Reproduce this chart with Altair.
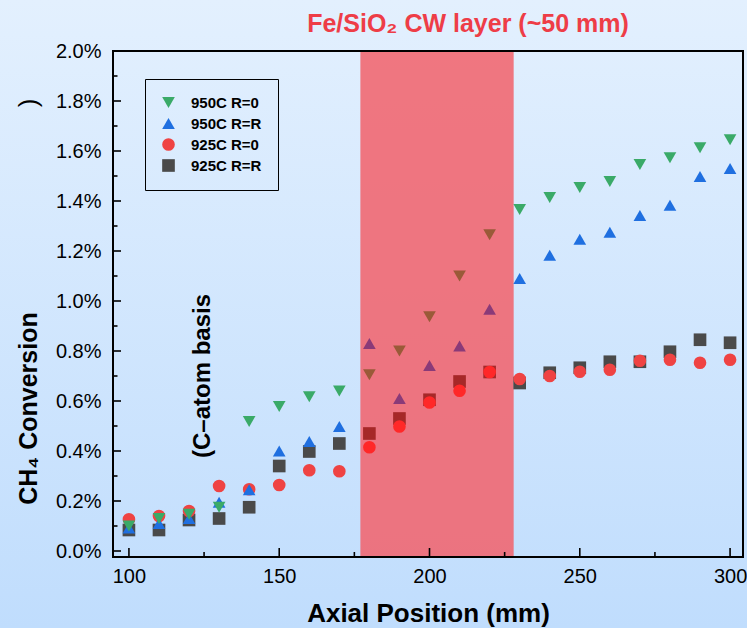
import altair as alt
import pandas as pd

# ---------------- data ----------------
positions = [100, 110, 120, 130, 140, 150, 160, 170, 180, 190, 200,
             210, 220, 230, 240, 250, 260, 270, 280, 290, 300]
g950_r0 = [0.100, 0.130, 0.147, 0.175, 0.518, 0.578, 0.617, 0.640, 0.705, 0.800, 0.937,
           1.100, 1.265, 1.366, 1.414, 1.454, 1.478, 1.546, 1.573, 1.613, 1.645]
b950_rr = [0.092, 0.110, 0.130, 0.195, 0.245, 0.400, 0.438, 0.498, 0.830, 0.610, 0.742,
           0.820, 0.967, 1.090, 1.183, 1.247, 1.275, 1.342, 1.383, 1.498, 1.530]
r925_r0 = [0.127, 0.140, 0.160, 0.260, 0.247, 0.264, 0.323, 0.319, 0.415, 0.498, 0.594,
           0.641, 0.716, 0.688, 0.700, 0.717, 0.725, 0.761, 0.765, 0.753, 0.765]
s925_rr = [0.084, 0.084, 0.124, 0.130, 0.175, 0.340, 0.398, 0.430, 0.470, 0.530, 0.605,
           0.678, 0.716, 0.672, 0.713, 0.733, 0.757, 0.757, 0.797, 0.845, 0.833]

series_names = ["950C R=0", "950C R=R", "925C R=0", "925C R=R"]
series_values = [g950_r0, b950_rr, r925_r0, s925_rr]
series_colors = ["#3AAA68", "#1F6FE0", "#EF4343", "#4A4A4A"]
zone_colors = ["#9A5A38", "#8A3A78", "#FF2828", "#A62828"]
series_shapes = ["triangle-down", "triangle-up", "circle", "square"]
draw_order = [3, 2, 1, 0]  # squares below, green triangles on top

zone_start, zone_end = 177, 228
zone_label = "Fe/SiO\u2082 CW layer (~50 mm)"

y_major = [0.0, 0.2, 0.4, 0.6, 0.8, 1.0, 1.2, 1.4, 1.6, 1.8, 2.0]
y_minor = [0.1, 0.3, 0.5, 0.7, 0.9, 1.1, 1.3, 1.5, 1.7, 1.9]
x_major = [100, 150, 200, 250, 300]
x_minor = [125, 175, 225, 275]

# ---------------- layout ----------------
W, H = 630, 506
PAD_L, PAD_T, PAD_R, PAD_B = 113, 51, 4, 71
FONT = "Liberation Sans"

xs = alt.Scale(domain=[94.7, 304.3], nice=False, zero=False)
ys = alt.Scale(domain=[-0.024, 2.0], nice=False, zero=False)

x_axis = alt.Axis(
    values=x_major, ticks=False, domain=False, grid=False, format="d", zindex=5,
    labelFont=FONT, labelFontSize=20, labelColor="black", labelPadding=9,
    title="Axial Position (mm)", titleFont=FONT, titleFontSize=26,
    titleFontWeight="bold", titleColor="black", titleY=56, titleBaseline="middle")
y_axis = alt.Axis(
    values=y_major, ticks=False, domain=False, grid=False, zindex=5,
    labelExpr="format(datum.value, '.1f') + '%'",
    labelFont=FONT, labelFontSize=20, labelColor="black", labelPadding=12,
    title="CH\u2084 Conversion", titleFont=FONT, titleFontSize=25,
    titleFontWeight="bold", titleColor="black", titleAngle=270,
    titleX=-85, titleY=357, titleAlign="center", titleBaseline="middle")

rows = []
for i in draw_order:
    for p, v in zip(positions, series_values[i]):
        inside = zone_start <= p <= zone_end
        key = series_names[i] + (" (layer)" if inside else "")
        rows.append({"pos": p, "val": v, "key": key})
df = pd.DataFrame(rows)

key_domain = series_names + [n + " (layer)" for n in series_names]
legend = alt.Legend(
    values=series_names, title=None, orient="none", legendX=32, legendY=28,
    padding=16, rowPadding=5, strokeColor="black", zindex=5,
    labelFont=FONT, labelFontSize=15, labelFontWeight="bold", labelColor="black",
    symbolSize=160, symbolStrokeWidth=0, labelOffset=15, symbolOffset=0,
)

one = pd.DataFrame({"a": [0]})

background = alt.Chart(one).mark_rect(
    color=alt.Gradient(
        gradient="linear",
        stops=[alt.GradientStop(color="#E3F0FE", offset=0),
               alt.GradientStop(color="#C0DDFD", offset=1)],
        x1=0, x2=0, y1=0, y2=1,
    )
).encode(
    x=alt.value(-PAD_L), x2=alt.value(W + PAD_R),
    y=alt.value(-PAD_T), y2=alt.value(H + PAD_B),
)

zone = alt.Chart(pd.DataFrame({"start": [zone_start], "end": [zone_end]})).mark_rect(
    color="#F2606A", opacity=0.85
).encode(
    x=alt.X("start:Q", scale=xs, axis=x_axis), x2="end:Q",
    y=alt.value(0), y2=alt.value(H),
)

frame = alt.Chart(one).mark_rect(
    fill=None, fillOpacity=0, stroke="black", strokeWidth=2
).encode(x=alt.value(0), x2=alt.value(W), y=alt.value(0), y2=alt.value(H))

yt_major = alt.Chart(pd.DataFrame({"v": y_major})).mark_rule(color="black", strokeWidth=1.6).encode(
    y=alt.Y("v:Q", scale=ys, axis=y_axis), x=alt.value(0), x2=alt.value(8))
yt_minor = alt.Chart(pd.DataFrame({"v": y_minor})).mark_rule(color="black", strokeWidth=1.6).encode(
    y=alt.Y("v:Q", scale=ys, axis=y_axis), x=alt.value(0), x2=alt.value(4.5))
xt_major = alt.Chart(pd.DataFrame({"v": x_major})).mark_rule(color="black", strokeWidth=1.6).encode(
    x=alt.X("v:Q", scale=xs, axis=x_axis), y=alt.value(H), y2=alt.value(H - 9))
xt_minor = alt.Chart(pd.DataFrame({"v": x_minor})).mark_rule(color="black", strokeWidth=1.6).encode(
    x=alt.X("v:Q", scale=xs, axis=x_axis), y=alt.value(H), y2=alt.value(H - 5))

points = alt.Chart(df).mark_point(filled=True, size=160, opacity=1).encode(
    x=alt.X("pos:Q", scale=xs, axis=x_axis),
    y=alt.Y("val:Q", scale=ys, axis=y_axis),
    color=alt.Color("key:N", scale=alt.Scale(domain=key_domain,
                                             range=series_colors + zone_colors), legend=legend),
    shape=alt.Shape("key:N", scale=alt.Scale(domain=key_domain,
                                             range=series_shapes + series_shapes), legend=legend),
)

title_txt = alt.Chart(one).mark_text(
    text=zone_label, font=FONT, fontSize=25, fontWeight="bold", color="#EE3D47",
    align="center", baseline="middle"
).encode(x=alt.value(355), y=alt.value(-27))

paren_txt = alt.Chart(one).mark_text(
    text=")", font=FONT, fontSize=26, color="black", angle=270,
    align="center", baseline="middle"
).encode(x=alt.value(-84), y=alt.value(52))

basis_txt = alt.Chart(one).mark_text(
    text="(C\u2013atom basis", font=FONT, fontSize=24, fontWeight="bold", color="black",
    angle=270, align="center", baseline="middle"
).encode(x=alt.value(90), y=alt.value(325))

chart = alt.layer(
    background, zone, frame, yt_major, yt_minor, xt_major, xt_minor, points,
    title_txt, paren_txt, basis_txt
).properties(
    width=W, height=H,
    autosize=alt.AutoSizeParams(type="none"),
    padding={"left": PAD_L, "top": PAD_T, "right": PAD_R, "bottom": PAD_B},
    background="#D2E6FC",
).configure_view(stroke="black", strokeWidth=2)

chart.save("out.html", embed_options={"renderer": "svg", "actions": False})
